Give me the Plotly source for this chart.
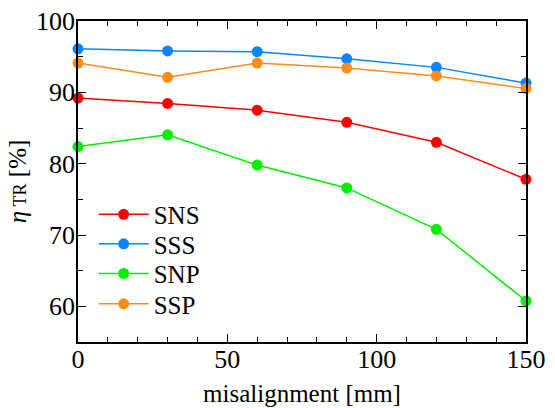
import plotly.graph_objects as go

misalignment = [0, 30, 60, 90, 120, 150]
sns = [89.2, 88.45, 87.5, 85.8, 83.0, 77.8]
sss = [96.1, 95.8, 95.7, 94.7, 93.5, 91.3]
snp = [82.4, 84.05, 79.8, 76.6, 70.8, 60.75]
ssp = [94.1, 92.1, 94.1, 93.4, 92.3, 90.55]

series = [
    ("SNS", sns, "#ff0000"),
    ("SSS", sss, "#0a84ff"),
    ("SNP", snp, "#00ee00"),
    ("SSP", ssp, "#ff8c1a"),
]
legend_ids = ["legend", "legend2", "legend3", "legend4"]
legend_ys = [0.397, 0.305, 0.213, 0.118]

font = "Liberation Serif"

fig = go.Figure()
for (name, vals, col), lid in zip(series, legend_ids):
    fig.add_trace(go.Scatter(
        x=misalignment, y=vals, name=name, mode="lines+markers",
        line=dict(color=col, width=1.5),
        marker=dict(color=col, size=11),
        cliponaxis=False, legend=lid,
    ))

axis_common = dict(
    showline=True, linecolor="black", linewidth=1.5, mirror="ticks",
    ticks="inside", ticklen=8, tickwidth=1.2, tickcolor="black",
    showgrid=False, zeroline=False, automargin=False,
    tickfont=dict(family=font, size=26, color="black"),
)

fig.update_xaxes(
    range=[0, 150], dtick=50, tick0=0, ticklabelstandoff=-7,
    minor=dict(dtick=10, ticks="inside", ticklen=5, tickcolor="black", tickwidth=1.2, showgrid=False),
    title=dict(text="misalignment [mm]", font=dict(family=font, size=25, color="black"), standoff=12),
    **axis_common,
)
fig.update_yaxes(
    range=[55, 100], dtick=10, tick0=60, ticklabelstandoff=-4,
    minor=dict(dtick=5, ticks="inside", ticklen=5, tickcolor="black", tickwidth=1.2, showgrid=False),
    title=dict(text="<i>η</i><span style='font-size:18px'> TR</span> [%]",
               font=dict(family=font, size=25, color="black"), standoff=2),
    **axis_common,
)

legend_style = dict(
    x=0.035, xanchor="left", yanchor="middle",
    bgcolor="rgba(0,0,0,0)", borderwidth=0,
    font=dict(family=font, size=25, color="black"),
    itemwidth=50,
)

fig.update_layout(
    width=555, height=408,
    margin=dict(l=78, r=29, t=21, b=66),
    plot_bgcolor="white", paper_bgcolor="white",
    font=dict(family=font, color="black"),
    showlegend=True,
    **{lid: dict(y=ly, **legend_style) for lid, ly in zip(legend_ids, legend_ys)},
)

fig.write_html(
    "out.html",
    config={"displayModeBar": False},
    post_script="document.body.style.margin='0';document.body.style.padding='0';document.body.style.overflow='hidden';",
)
